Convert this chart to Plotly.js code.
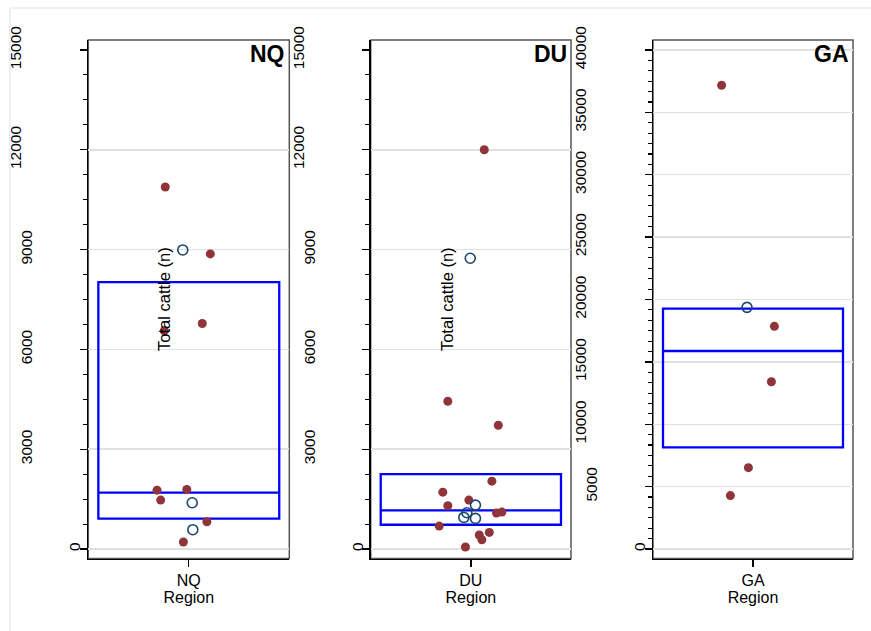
<!DOCTYPE html>
<html>
<head>
<meta charset="utf-8">
<script src="https://cdn.plot.ly/plotly-3.0.1.min.js"></script>
<style>
  html, body { margin: 0; padding: 0; background: #ffffff; }
  #chart { width: 871px; height: 631px; }
</style>
</head>
<body>
<div id="chart"></div>
<script>
// ---- data ----
const regions = ['NQ', 'DU', 'GA'];
const yTitle = 'Total cattle (n)';
const xTitle = 'Region';

const nqRedY = [10880, 8870, 6780, 6560, 1770, 1470, 1790, 820, 210];
const nqRedJitter = [-0.117, 0.107, 0.067, -0.122, -0.158, -0.14, -0.01, 0.09, -0.027];
const nqBlueY = [8990, 1390, 580];
const nqBlueJitter = [-0.03, 0.017, 0.02];

const duRedY = [12000, 4440, 3720, 2040, 1710, 1300, 1470, 1080, 1110, 690, 500, 420, 280, 60];
const duRedJitter = [0.067, -0.115, 0.137, 0.105, -0.14, -0.115, -0.01, 0.128, 0.155, -0.158, 0.092, 0.042, 0.055, -0.027];
const duBlueY = [8740, 1320, 1090, 950, 920];
const duBlueJitter = [-0.003, 0.023, -0.02, -0.035, 0.023];

const gaRedY = [37170, 17850, 13410, 6520, 4280];
const gaRedJitter = [-0.157, 0.107, 0.092, -0.023, -0.113];
const gaBlueY = [19370];
const gaBlueJitter = [-0.03];

const boxQ1 = [911, 730, 8150];
const boxMedian = [1693, 1163, 15872];
const boxQ3 = [8025, 2254, 19265];

const yTicksNQ = [0, 3000, 6000, 9000, 12000, 15000];
const yTicksDU = [0, 3000, 6000, 9000, 12000, 15000];
const yTicksGA = [0, 5000, 10000, 15000, 20000, 25000, 30000, 35000, 40000];
const minorPerMajor = [4, 4, 6];
const gridAtTop = [false, false, true];

// ---- layout / styling ----
const W = 871, H = 631;
const FONT = 'Liberation Sans, Arial, Helvetica, sans-serif';
const RED = '#8f343a';
const NAVY = '#1a476f';
const xDomPx = [[88.3, 289.3], [370.7, 571], [653, 853]];
const yDomPx = [40, 558.5];
const yDom = [1 - yDomPx[1] / H, 1 - yDomPx[0] / H];

const redY = [nqRedY, duRedY, gaRedY];
const redJ = [nqRedJitter, duRedJitter, gaRedJitter];
const blueY = [nqBlueY, duBlueY, gaBlueY];
const blueJ = [nqBlueJitter, duBlueJitter, gaBlueJitter];
const yTicks = [yTicksNQ, yTicksDU, yTicksGA];
const showYTitle = [true, true, false];

const traces = [];
const layout = {
  width: W, height: H,
  margin: {l: 0, r: 0, t: 0, b: 0},
  paper_bgcolor: '#ffffff',
  plot_bgcolor: '#ffffff',
  showlegend: false,
  font: {family: FONT, color: '#000000'},
  annotations: [],
  shapes: [
    {type: 'line', xref: 'paper', yref: 'paper', x0: 10 / W, x1: 1, y0: 1 - 8 / H, y1: 1 - 8 / H,
     line: {color: '#edf1f3', width: 2}},
    {type: 'line', xref: 'paper', yref: 'paper', x0: 10 / W, x1: 10 / W, y0: 0, y1: 1 - 8 / H,
     line: {color: '#edf1f3', width: 2}}
  ]
};

const standoffByLen = {1: 4, 4: 52, 5: 63};
let extraAxis = 4;

regions.forEach((reg, i) => {
  const n = i + 1;
  const xa = n === 1 ? 'x' : 'x' + n;
  const ya = n === 1 ? 'y' : 'y' + n;
  const xKey = n === 1 ? 'xaxis' : 'xaxis' + n;
  const yKey = n === 1 ? 'yaxis' : 'yaxis' + n;
  const ticks = yTicks[i];
  const top = ticks[ticks.length - 1];
  const major = ticks[1] - ticks[0];
  const yRange = [-0.019 * top, 1.02 * top];

  // box (precomputed quartiles, no whiskers)
  traces.push({
    type: 'box', x: [0], q1: [boxQ1[i]], median: [boxMedian[i]], q3: [boxQ3[i]],
    lowerfence: [boxQ1[i]], upperfence: [boxQ3[i]],
    width: 0.9, whiskerwidth: 0, boxpoints: false,
    line: {color: '#0000ff', width: 2.3}, fillcolor: 'rgba(0,0,0,0)',
    xaxis: xa, yaxis: ya, hoverinfo: 'skip'
  });
  traces.push({
    type: 'scatter', mode: 'markers', x: redJ[i], y: redY[i],
    marker: {symbol: 'circle', size: 9, color: RED, line: {width: 0}},
    xaxis: xa, yaxis: ya
  });
  traces.push({
    type: 'scatter', mode: 'markers', x: blueJ[i], y: blueY[i],
    marker: {symbol: 'circle-open', size: 10, color: NAVY, line: {width: 1.6, color: NAVY}},
    xaxis: xa, yaxis: ya
  });

  layout[xKey] = {
    domain: [xDomPx[i][0] / W, xDomPx[i][1] / W],
    anchor: ya, range: [-0.5, 0.5], fixedrange: true,
    tickvals: [0], ticktext: [reg], ticks: 'outside', ticklen: 7, tickwidth: 1.3, tickcolor: '#000',
    tickfont: {family: FONT, size: 16, color: '#000'},
    showgrid: false, zeroline: false,
    showline: true, linecolor: '#000', linewidth: 1.5,
    title: {text: xTitle, font: {family: FONT, size: 16, color: '#000'}, standoff: 0},
    automargin: false
  };
  layout[yKey] = {
    domain: yDom, anchor: xa, range: yRange, fixedrange: true,
    tickvals: ticks, showticklabels: false,
    ticks: 'outside', ticklen: 7, tickwidth: 1.3, tickcolor: '#000',
    minor: {dtick: major / minorPerMajor[i], tick0: 0, ticks: 'outside', ticklen: 4, tickwidth: 1.1, tickcolor: '#000', showgrid: false},
    showgrid: false,
    zeroline: false, showline: true, linecolor: '#000', linewidth: 1.5,
    automargin: false
  };

  // gridlines (Stata leaves out the one at the top of the NQ and DU axes)
  {
    const id = 'yaxis' + extraAxis;
    const yid = 'y' + extraAxis;
    layout[id] = {
      domain: yDom, anchor: xa, overlaying: ya, side: 'left', range: yRange, fixedrange: true,
      tickvals: gridAtTop[i] ? ticks : ticks.slice(0, -1), showticklabels: false, ticks: '',
      showgrid: true, gridcolor: '#e1e1e1', gridwidth: 1.5,
      zeroline: false, showline: false, automargin: false
    };
    traces.push({type: 'scatter', mode: 'markers', x: [], y: [], xaxis: xa, yaxis: yid, hoverinfo: 'skip'});
    extraAxis++;
  }

  // tick labels, grouped by label length (Stata places them at different offsets)
  const groups = {};
  ticks.forEach(v => {
    const s = String(v);
    (groups[s.length] = groups[s.length] || []).push(v);
  });
  Object.keys(groups).forEach(len => {
    const id = 'yaxis' + extraAxis;
    const yid = 'y' + extraAxis;
    layout[id] = {
      domain: yDom, anchor: xa, overlaying: ya, side: 'left', range: yRange, fixedrange: true,
      tickvals: groups[len], ticktext: groups[len].map(String),
      ticks: '', tickangle: -90, ticklabelstandoff: standoffByLen[len] !== undefined ? standoffByLen[len] : 40,
      tickfont: {family: FONT, size: 15.5, color: '#000'},
      showgrid: false, zeroline: false, showline: false, automargin: false
    };
    traces.push({type: 'scatter', mode: 'markers', x: [], y: [], xaxis: xa, yaxis: yid, hoverinfo: 'skip'});
    extraAxis++;
  });

  // frame
  layout.shapes.push({
    type: 'rect', xref: xa + ' domain', yref: ya + ' domain', x0: 0, x1: 1, y0: 0, y1: 1,
    line: {color: '#555555', width: 1.5}, layer: 'below'
  });
  // panel label
  layout.annotations.push({
    xref: xa + ' domain', yref: ya + ' domain', x: 1, y: 1, xanchor: 'right', yanchor: 'top',
    xshift: -2, yshift: 1, showarrow: false,
    text: '<b>' + reg + '</b>', font: {family: FONT, size: 23, color: '#000'}
  });
  if (showYTitle[i]) {
    layout.annotations.push({
      xref: xa + ' domain', yref: ya + ' domain', x: 0.38, y: 0.5, xanchor: 'center', yanchor: 'middle',
      showarrow: false, textangle: -90,
      text: yTitle, font: {family: FONT, size: 16.5, color: '#000'}
    });
  }
});

Plotly.newPlot('chart', traces, layout, {displayModeBar: false, staticPlot: true});
</script>
</body>
</html>
